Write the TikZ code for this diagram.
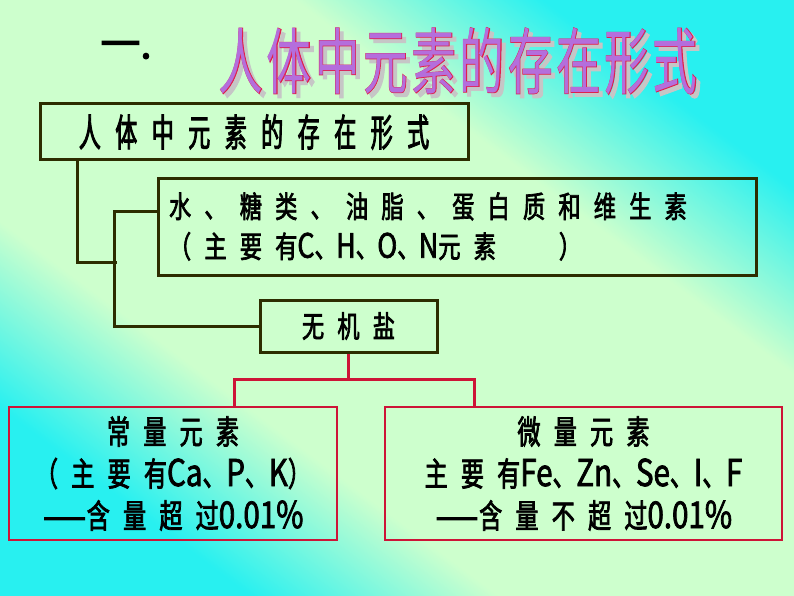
\documentclass[tikz,border=0pt]{standalone}
\usepackage{fontspec}
\usetikzlibrary{positioning}
\newfontfamily\hei[FakeBold=2.2]{Noto Sans CJK SC}
\newfontfamily\heilat[FakeStretch=0.8,FakeBold=2,Scale=1.12]{Noto Sans CJK SC}
\newfontfamily\heidash[FakeStretch=1.5,FakeBold=4]{Noto Sans CJK SC}
\newcommand{\lat}[1]{{\heilat #1}}
\newcommand{\dun}{\makebox[0.72em][l]{、}}
\newcommand{\longdash}{{\heidash —}}
\definecolor{bgcyan}{RGB}{40,240,240}
\definecolor{bggreen}{RGB}{205,255,205}
\definecolor{olivedk}{RGB}{45,45,0}
\definecolor{boxred}{RGB}{205,20,55}
\definecolor{titfill}{RGB}{180,110,220}
\definecolor{titrim}{RGB}{225,30,75}
\pgfdeclareverticalshading{bgshade}{100bp}{color(0bp)=(bgcyan); color(26bp)=(bgcyan);
  color(37bp)=(bggreen); color(63bp)=(bggreen); color(74bp)=(bgcyan); color(100bp)=(bgcyan)}

\begin{document}
\begin{tikzpicture}[
  x=1pt, y=-1pt,
  olvbox/.style={draw=olivedk, line width=3pt, inner sep=0pt},
  redbox/.style={draw=boxred, line width=2.5pt, inner sep=0pt, minimum height=133pt, align=center},
  olvln/.style={draw=olivedk, line width=3pt},
  redln/.style={draw=boxred, line width=3pt},
  bigtxt/.style={font={\hei\fontsize{38}{40}\selectfont\addfontfeatures{FakeStretch=0.58,LetterSpace=38}}},
  midtxt/.style={font={\hei\fontsize{30}{40}\selectfont\addfontfeatures{FakeStretch=0.74,LetterSpace=44}}},
  lowtxt/.style={font={\hei\fontsize{33}{42}\selectfont\addfontfeatures{FakeStretch=0.70,LetterSpace=40}}},
  headtxt/.style={font={\hei\fontsize{72}{80}\selectfont\addfontfeatures{FakeStretch=0.62,LetterSpace=5,FakeBold=0}}},
  headrim/.style={font={\hei\fontsize{72}{80}\selectfont\addfontfeatures{FakeStretch=0.62,LetterSpace=5,FakeBold=1.3}}}
]
\useasboundingbox (0,0) rectangle (794,596);
% background
\shade[shading=bgshade, shading angle=-36.9] (0,0) rectangle (794,596);

% heading
\node[font={\hei\fontsize{40}{40}\selectfont\addfontfeatures{FakeBold=3}}] (num) at (126,50) {一.};
\node[headrim, text=gray!45] (headsh) at (462,65) {人体中元素的存在形式};
\node[headrim, text=titrim] (headout) at (458,61) {人体中元素的存在形式};
\node[headtxt, text=titfill] (head) at (458,61) {人体中元素的存在形式};

% boxes
\node[olvbox, bigtxt, minimum width=428pt, minimum height=56pt] (forms) at (254,132) {人体中元素的存在形式};
\node[olvbox, midtxt, minimum width=598pt, minimum height=97pt, text width=576pt, inner xsep=11pt, align=left] (organic) at (457,226.5)
  {水、糖类、油脂、蛋白质和维生素\\（主要有\lat{C}\dun\lat{H}\dun\lat{O}\dun\lat{N}元素\hspace{2.1em}）};
\node[olvbox, midtxt, minimum width=177pt, minimum height=52pt] (salt) at (348.5,326) {无机盐};
\node[redbox, lowtxt, minimum width=328pt] (major) at (173,473.5)
  {常量元素\\（主要有\lat{Ca}\dun\lat{P}\dun\lat{K}）\\\longdash 含量超过\lat{0.01\%}};
\node[redbox, lowtxt, minimum width=397pt] (trace) at (583.5,473.5)
  {微量元素\\主要有\lat{Fe}\dun\lat{Zn}\dun\lat{Se}\dun\lat{I}\dun\lat{F}\\\longdash 含量不超过\lat{0.01\%}};

% tree lines
\coordinate (trunk) at (117,262);
\draw[olvln] ([xshift=39pt]forms.south west) |- (trunk);
\draw[olvln] ([yshift=15pt]organic.west) -- ++(-42,0) |- (salt.west);

% split to element groups
\draw[redln] (salt.south) -- ++(0,26) coordinate (split);
\draw[redln] ([xshift=61pt]major.north) |- (split) -| ([xshift=-109pt]trace.north);
\end{tikzpicture}
\end{document}
